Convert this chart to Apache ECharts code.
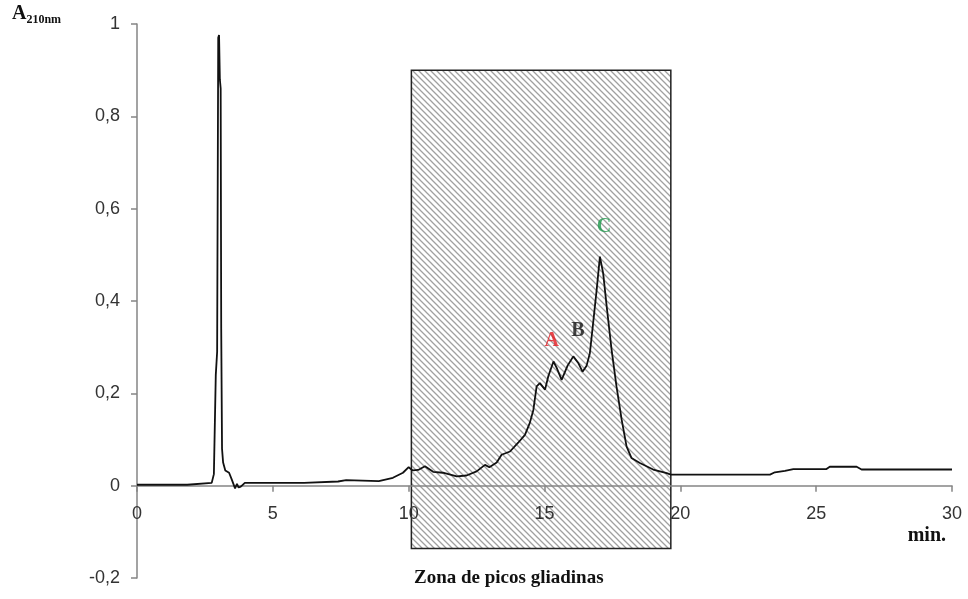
<!DOCTYPE html>
<html>
<head>
<meta charset="utf-8">
<script src="https://cdn.jsdelivr.net/npm/echarts@6/dist/echarts.min.js"></script>
<style>html,body{margin:0;padding:0;background:#fff}#c{width:968px;height:599px}</style>
</head>
<body>
<div id="c"></div>
<script>
// ---- data ----
const times = [0, 1.85, 1.9, 2.75, 2.83, 2.9, 2.95, 2.99, 3.02, 3.05, 3.08, 3.1, 3.13, 3.17, 3.25, 3.39, 3.49, 3.61, 3.68, 3.74, 3.82, 3.97,
  6.15, 6.2, 7.4, 7.47, 7.7, 7.75, 8.9, 9.42, 9.79, 10.0, 10.15, 10.35, 10.6, 10.9, 11.26, 11.77, 12.13, 12.5, 12.81, 12.97, 13.24, 13.42,
  13.73, 14.03, 14.28, 14.46, 14.59, 14.71, 14.83, 15.02, 15.14, 15.33, 15.45, 15.63, 15.85, 16.06, 16.25, 16.4, 16.55, 16.67, 16.79,
  16.92, 17.04, 17.16, 17.29, 17.47, 17.65, 17.84, 18.02, 18.2, 18.51, 19.0, 19.5, 19.65, 23.3, 23.48, 23.85, 24.16, 25.38, 25.5,
  26.49, 26.67, 30.0];
const absorbance = [0.002, 0.002, 0.006, 0.006, 0.025, 0.24, 0.29, 0.97, 0.976, 0.88, 0.86, 0.34, 0.08, 0.05, 0.033, 0.028, 0.013, -0.006, 0.004, -0.004, -0.002, 0.006,
  0.006, 0.009, 0.009, 0.012, 0.012, 0.009, 0.01, 0.017, 0.028, 0.04, 0.033, 0.034, 0.042, 0.03, 0.028, 0.02, 0.022, 0.031, 0.045, 0.04, 0.05, 0.067,
  0.074, 0.093, 0.11, 0.136, 0.164, 0.215, 0.222, 0.208, 0.237, 0.269, 0.255, 0.229, 0.26, 0.28, 0.265, 0.247, 0.26, 0.287, 0.352,
  0.424, 0.496, 0.46, 0.388, 0.294, 0.215, 0.143, 0.085, 0.06, 0.049, 0.035, 0.027, 0.024, 0.024, 0.029, 0.032, 0.036, 0.036, 0.041,
  0.041, 0.035, 0.035];
const zoneX = [10.1, 19.65];
const zoneY = [-0.136, 0.9];
const peakNames = ['A', 'B', 'C'];
const peakX = [15.27, 16.23, 17.19];
const peakY = [0.314, 0.335, 0.56];
const xTicks = {min: 0, max: 30, interval: 5};
const yTicks = {min: -0.2, max: 1, interval: 0.2};

// ---- styling ----
const peakColors = ['#e3191f', '#111111', '#1d9a4b'];
function hatch() {
  const c = document.createElement('canvas');
  c.width = c.height = 6;
  const g = c.getContext('2d');
  g.fillStyle = '#ffffff'; g.fillRect(0, 0, 6, 6);
  g.strokeStyle = '#a0a0a0'; g.lineWidth = 1.3;
  g.beginPath();
  g.moveTo(-1, -1); g.lineTo(7, 7);
  g.moveTo(-1, 5); g.lineTo(1, 7);
  g.moveTo(5, -1); g.lineTo(7, 1);
  g.stroke();
  return c;
}
const serif = '"Liberation Serif", "DejaVu Serif", serif';
const sans = '"Liberation Sans", Arial, sans-serif';

const gridTop = 24, gridBottom = 21, H = 599;
const plotH = H - gridTop - gridBottom;
// pixel distance from the grid bottom (y = -0.2) up to the y = 0 line
const zeroOffset = plotH * (0 - yTicks.min) / (yTicks.max - yTicks.min);

const chart = echarts.init(document.getElementById('c'), null, {renderer: 'canvas'});
chart.setOption({
  animation: false,
  backgroundColor: '#fff',
  grid: {left: 137, right: 16, top: gridTop, bottom: gridBottom, containLabel: false, outerBoundsMode: 'none'},
  xAxis: {
    type: 'value', min: xTicks.min, max: xTicks.max, interval: xTicks.interval,
    position: 'bottom', offset: -zeroOffset, z: 10,
    axisLine: {onZero: false, lineStyle: {color: '#858585', width: 1.5}},
    axisTick: {show: true, length: 6, lineStyle: {color: '#858585', width: 1.5}},
    axisLabel: {color: '#333', fontFamily: sans, fontSize: 18, margin: 19},
    splitLine: {show: false}
  },
  yAxis: {
    type: 'value', min: yTicks.min, max: yTicks.max, interval: yTicks.interval,
    axisLine: {show: true, lineStyle: {color: '#858585', width: 1.5}},
    axisTick: {show: true, length: 6, lineStyle: {color: '#858585', width: 1.5}},
    axisLabel: {color: '#333', fontFamily: sans, fontSize: 18, margin: 17,
      formatter: v => (Math.round(v * 10) / 10).toString().replace('.', ',')},
    splitLine: {show: false}
  },
  series: [
    {
      type: 'line', z: 1, data: [], silent: true,
      markArea: {
        silent: true,
        itemStyle: {color: {image: hatch(), repeat: 'repeat'}, borderColor: '#222', borderWidth: 1.5},
        data: [[{coord: [zoneX[0], zoneY[1]]}, {coord: [zoneX[1], zoneY[0]]}]]
      }
    },
    {
      type: 'line', z: 12, showSymbol: false, symbol: 'none', silent: true,
      data: times.map((t, i) => [t, absorbance[i]]),
      lineStyle: {color: '#111', width: 1.8}
    },
    {
      type: 'scatter', z: 13, symbolSize: 0, silent: true,
      data: peakNames.map((n, i) => ({
        name: n, value: [peakX[i], peakY[i]],
        label: {show: true, formatter: n, position: 'inside', color: peakColors[i],
          fontFamily: serif, fontWeight: 'bold', fontSize: 20}
      }))
    }
  ],
  graphic: [
    {type: 'text', left: 12, top: 4, style: {
      text: '{a|A}{s|210nm}', rich: {
        a: {fontFamily: serif, fontWeight: 'bold', fontSize: 20, fill: '#111'},
        s: {fontFamily: serif, fontWeight: 'bold', fontSize: 12, fill: '#111', padding: [12, 0, 0, 0]}
      }}},
    {type: 'text', right: 22, top: 526, style: {text: 'min.', fontFamily: serif, fontWeight: 'bold', fontSize: 20, fill: '#111'}},
    {type: 'text', left: 414, top: 569, style: {text: 'Zona de picos gliadinas', fontFamily: serif, fontWeight: 'bold', fontSize: 19, fill: '#111'}}
  ]
});
</script>
</body>
</html>
